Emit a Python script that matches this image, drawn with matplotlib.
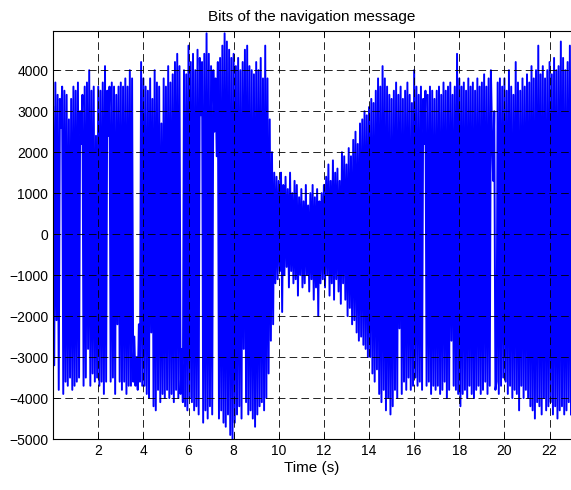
import numpy as np
import matplotlib
matplotlib.use("Agg")
import matplotlib.pyplot as plt

plt.rcParams['font.family'] = ['Liberation Sans', 'DejaVu Sans']
plt.rcParams['lines.scale_dashes'] = False

# samples every 0.05 s, values in hundreds (one row per second)
sec00 = [31, -32, 37, -21, 34, -38, 33, 26, 36, -39, 35, -36, 34, -37, 28, -35, 33, -38, 36, -37]
sec01 = [35, -36, 37, -35, 30, 22, 34, -37, 36, -35, 37, -28, 40, -37, 35, -34, 36, -36, 24, -35]
sec02 = [36, -37, 35, -36, 37, -39, 41, -36, 35, 24, 36, -36, 37, -35, 36, -39, 34, -22, 36, -36]
sec03 = [37, -38, 36, -36, 38, -39, 36, -37, 40, -37, 38, -36, -25, -37, -30, -38, -22, -36, 42, -37]
sec04 = [38, -37, 36, -39, 35, -40, 38, -24, 33, -42, 40, -43, 37, -38, 36, -41, 27, -39, 38, -40]
sec05 = [36, -38, 41, -40, 37, -39, 39, -41, 42, -38, 44, -40, 41, -39, -28, -41, 40, -42, 39, -43]
sec06 = [46, -40, 42, -41, 44, -43, 40, -42, 45, -44, 43, 29, 42, -46, 44, -43, 49, -45, 44, -42]
sec07 = [41, -44, 40, 25, 38, 19, 42, -45, 43, -43, 46, -46, 49, -47, 47, -44, 45, -49, 43, -50]
sec08 = [44, -46, 41, -44, 43, -42, 40, -45, 42, -28, 45, -41, 46, -44, 41, -43, 40, -45, 39, -47]
sec09 = [42, -44, 40, -42, 43, -41, 38, -43, 46, -40, 38, -34, 28, -26, 20, -22, 15, -12, 14, -11]
sec10 = [13, -9, 15, -19, 12, -10, 14, -8, 11, -13, 15, -9, 10, -12, 13, -11, 12, -15, 9, -10]
sec11 = [11, -13, 8, -12, 12, -10, 7, -14, 10, -11, 12, -16, 9, -13, 11, -20, 8, -12, 10, -11]
sec12 = [12, -13, 14, -10, 17, -15, 13, -12, 18, -16, 15, -11, 16, -14, 13, -17, 20, -12, 19, -16]
sec13 = [17, -20, 21, -18, 19, -22, 23, -21, 25, -24, 22, -26, 27, -25, 28, -27, 30, -28, 29, -30]
sec14 = [31, -30, 33, -34, 32, -36, 35, -33, 38, -39, 36, -41, 41, -38, 38, -43, 36, -40, 34, -44]
sec15 = [33, -42, 35, -38, 37, -40, 34, -23, 36, -39, 33, -36, 35, -38, 37, -35, 34, -38, 32, -37]
sec16 = [40, -35, 36, -37, 34, -36, 36, -38, 33, 22, 35, -37, 34, -36, 36, -39, 35, -37, 33, -38]
sec17 = [35, -37, 36, -39, 34, -38, 37, -36, 35, -40, 36, -38, 37, -26, 34, -37, 36, -38, 44, -39]
sec18 = [38, -42, 36, -39, 37, -38, 35, -40, 38, -37, 36, -39, 37, -40, 35, -38, 38, -37, 36, -39]
sec19 = [37, -38, 39, -36, 36, -39, 38, -37, 40, 25, 13, 30, -38, -36, 37, -39, 38, -37, 36, -35]
sec20 = [38, -36, 35, -39, 40, -37, 36, -40, 34, -38, 42, -39, 37, -43, 35, -37, 38, -40, 36, -38]
sec21 = [39, -40, 37, -42, 41, -43, 38, -45, 40, -41, 46, -42, 39, -44, 41, -40, 38, -43, 40, -42]
sec22 = [42, -41, 39, -44, 43, -42, 40, -45, 41, -43, 47, -42, 43, -44, 40, -43, 42, -41, 46, -44]

rows = [sec00, sec01, sec02, sec03, sec04, sec05, sec06, sec07, sec08, sec09, sec10, sec11,
        sec12, sec13, sec14, sec15, sec16, sec17, sec18, sec19, sec20, sec21, sec22]
bits = np.concatenate(rows) * 100.0
t = np.arange(len(bits)) * 0.05

xticks = [2, 4, 6, 8, 10, 12, 14, 16, 18, 20, 22]
yticks = [-5000, -4000, -3000, -2000, -1000, 0, 1000, 2000, 3000, 4000]

fig = plt.figure(figsize=(5.71, 4.90), dpi=100)
ax = fig.add_axes([0.093, 0.104, 0.907, 0.833])
ax.plot(t, bits, color='blue', lw=1.4)
ax.set_xlim(0, 22.95)
ax.set_ylim(-5000, 4960)
ax.set_xticks(xticks)
ax.set_yticks(yticks)
ax.set_axisbelow(False)
ax.grid(True, color='black', ls=(0, (5.5, 3)), lw=0.6)
ax.tick_params(direction='in', length=4, top=True, right=False, labelsize=10, width=0.6)
ax.spines['right'].set_visible(False)
for s in ['left', 'top', 'bottom']:
    ax.spines[s].set_linewidth(0.8)
ax.set_xlabel("Time (s)", fontsize=11, labelpad=2)
ax.set_title("Bits of the navigation message", fontsize=11, pad=7)
fig.savefig("out.png", dpi=100)
